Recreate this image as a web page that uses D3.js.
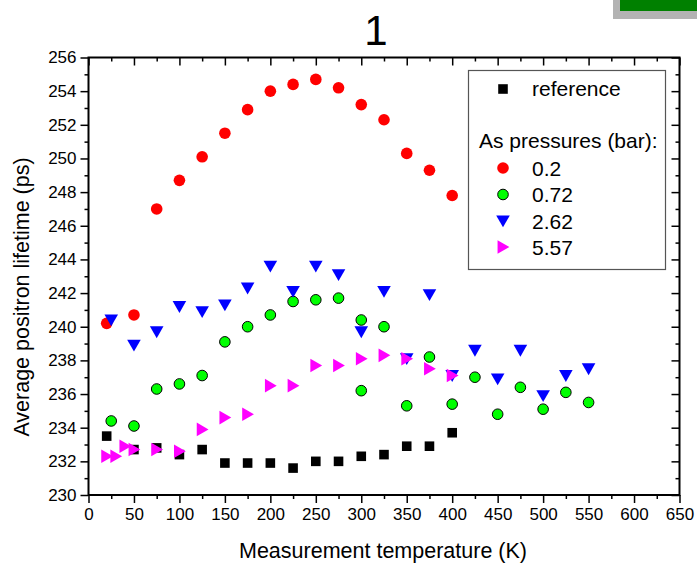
<!DOCTYPE html>
<html>
<head>
<meta charset="utf-8">
<script src="https://cdn.jsdelivr.net/npm/d3@7"></script>
<style>
  body { margin: 0; background: #fff; }
  svg { display: block; font-family: "Liberation Sans", Arial, sans-serif; }
</style>
</head>
<body>
<svg id="chart" width="697" height="564"></svg>
<script>
// reference samples
const refT = [20, 50, 75, 100, 125, 150, 175, 200, 225, 250, 275, 300, 325, 350, 375, 400]
const refV = [233.5, 232.7, 232.8, 232.4, 232.7, 231.9, 231.9, 231.9, 231.6, 232.0, 232.0, 232.3, 232.4, 232.9, 232.9, 233.7]

// 0.2 bar
const p02T = [20, 50, 75, 100, 125, 150, 175, 200, 225, 250, 275, 300, 325, 350, 375, 400]
const p02V = [240.2, 240.7, 247.0, 248.7, 250.1, 251.5, 252.9, 254.0, 254.4, 254.7, 254.2, 253.2, 252.3, 250.3, 249.3, 247.8]

// 0.72 bar
const p072T = [25, 50, 75, 100, 125, 150, 175, 200, 225, 250, 275, 300, 300, 325, 350, 375, 400, 425, 450, 475, 500, 525, 550]
const p072V = [234.4, 234.1, 236.3, 236.6, 237.1, 239.1, 240.0, 240.7, 241.5, 241.6, 241.7, 240.4, 236.2, 240.0, 235.3, 238.2, 235.4, 237.0, 234.8, 236.4, 235.1, 236.1, 235.5]

// 2.62 bar
const p262T = [25, 50, 75, 100, 125, 150, 175, 200, 225, 250, 275, 300, 325, 350, 375, 400, 425, 450, 475, 500, 525, 550]
const p262V = [240.4, 238.9, 239.7, 241.2, 240.9, 241.3, 242.3, 243.6, 242.1, 243.6, 243.1, 239.7, 242.1, 238.1, 241.9, 237.1, 238.6, 236.9, 238.6, 235.9, 237.1, 237.5]

// 5.57 bar
const p557T = [20, 30, 40, 50, 75, 100, 125, 150, 175, 200, 225, 250, 275, 300, 325, 350, 375, 400]
const p557V = [232.3, 232.3, 232.9, 232.7, 232.7, 232.6, 233.9, 234.6, 234.8, 236.5, 236.5, 237.7, 237.7, 238.1, 238.3, 238.1, 237.5, 237.1]

const xTicks = d3.range(0, 651, 50)
const yTicks = d3.range(230, 257, 2)
const legendLabels = ["0.2", "0.72", "2.62", "5.57"]

const svg = d3.select("#chart")
const margin = {top: 57.5, right: 17.5, bottom: 69, left: 88.5}
const width = 697 - margin.left - margin.right
const height = 564 - margin.top - margin.bottom

const x = d3.scaleLinear().domain([0, 650]).range([0, width])
const y = d3.scaleLinear().domain([230, 256]).range([height, 0])

// green box in the corner
svg.append("rect").attr("x", 613).attr("y", -2).attr("width", 90).attr("height", 21).attr("fill", "#b3b3b3")
svg.append("rect").attr("x", 620).attr("y", -2).attr("width", 80).attr("height", 13).attr("fill", "#008000")

// title
svg.append("text")
  .attr("x", 376).attr("y", 45)
  .attr("text-anchor", "middle")
  .attr("font-size", 42)
  .attr("font-family", "Arial, 'Liberation Sans', sans-serif")
  .text("1")

const g = svg.append("g").attr("transform", `translate(${margin.left},${margin.top})`)

const minorX = d3.range(25, 650, 50)
const minorY = d3.range(231, 256, 2)

function styleAxis(sel) {
  sel.select(".domain").remove()
  sel.selectAll(".tick line").attr("stroke", "#000").attr("stroke-width", 1.5)
}

// bottom
g.append("g").attr("transform", `translate(0,${height})`)
  .call(d3.axisBottom(x).tickValues(xTicks).tickSize(8).tickPadding(5))
  .call(styleAxis)
  .selectAll("text").attr("font-size", 17).attr("fill", "#000")
g.append("g").attr("transform", `translate(0,${height})`)
  .call(d3.axisBottom(x).tickValues(minorX).tickSize(4).tickFormat(""))
  .call(styleAxis)
// top
g.append("g")
  .call(d3.axisTop(x).tickValues(xTicks).tickSize(-8).tickFormat(""))
  .call(styleAxis)
g.append("g")
  .call(d3.axisTop(x).tickValues(minorX).tickSize(-4).tickFormat(""))
  .call(styleAxis)
// left
g.append("g")
  .call(d3.axisLeft(y).tickValues(yTicks).tickSize(8).tickPadding(4))
  .call(styleAxis)
  .selectAll("text").attr("font-size", 17).attr("fill", "#000")
g.append("g")
  .call(d3.axisLeft(y).tickValues(minorY).tickSize(4).tickFormat(""))
  .call(styleAxis)
// right
g.append("g").attr("transform", `translate(${width},0)`)
  .call(d3.axisRight(y).tickValues(yTicks).tickSize(-8).tickFormat(""))
  .call(styleAxis)
g.append("g").attr("transform", `translate(${width},0)`)
  .call(d3.axisRight(y).tickValues(minorY).tickSize(-4).tickFormat(""))
  .call(styleAxis)

// frame
g.append("rect")
  .attr("width", width).attr("height", height)
  .attr("fill", "none").attr("stroke", "#000").attr("stroke-width", 2)

// axis titles
svg.append("text")
  .attr("x", 383).attr("y", 558)
  .attr("text-anchor", "middle")
  .attr("font-size", 21.5)
  .text("Measurement temperature (K)")

svg.append("text")
  .attr("transform", "translate(29,297) rotate(-90)")
  .attr("text-anchor", "middle")
  .attr("font-size", 21.5)
  .text("Average positron lifetime (ps)")

// marker shapes
const sq = d3.symbol().type(d3.symbolSquare).size(92)
const tri = d3.symbol().type(d3.symbolTriangle).size(80)

function pts(T, V) { return T.map((t, i) => ({t: t, v: V[i]})) }

function squares(sel, data) {
  sel.selectAll(null).data(data).enter().append("path")
    .attr("d", sq)
    .attr("transform", d => `translate(${x(d.t)},${y(d.v)})`)
    .attr("fill", "#000")
}
function circles(sel, data, fill, stroke) {
  sel.selectAll(null).data(data).enter().append("circle")
    .attr("cx", d => x(d.t)).attr("cy", d => y(d.v))
    .attr("r", stroke ? 5.3 : 5.8)
    .attr("fill", fill)
    .attr("stroke", stroke || "none")
    .attr("stroke-width", 1)
}
// rot: 180 -> pointing down, 90 -> pointing right
function triangles(sel, data, fill, rot) {
  sel.selectAll(null).data(data).enter().append("path")
    .attr("d", tri)
    .attr("transform", d => `translate(${x(d.t)},${y(d.v)}) rotate(${rot}) translate(0,1.5)`)
    .attr("fill", fill)
}

const marks = g.append("g")
squares(marks, pts(refT, refV))
circles(marks, pts(p02T, p02V), "#ff0000")
circles(marks, pts(p072T, p072V), "#00ff00", "#000")
triangles(marks, pts(p262T, p262V), "#0000ff", 180)
triangles(marks, pts(p557T, p557V), "#ff00ff", 90)

// legend
const lg = svg.append("g")
lg.append("rect")
  .attr("x", 468.5).attr("y", 70.5).attr("width", 197).attr("height", 199)
  .attr("fill", "#fff").attr("stroke", "#555").attr("stroke-width", 1.2)

const mx = 503, tx = 532
lg.append("path").attr("d", sq).attr("transform", `translate(${mx},89)`).attr("fill", "#000")
lg.append("text").attr("x", tx).attr("y", 96).attr("font-size", 21).text("reference")
lg.append("text").attr("x", 479).attr("y", 148).attr("font-size", 21).text("As pressures (bar):")

const rows = [168, 194.5, 221, 247]
lg.append("circle").attr("cx", mx).attr("cy", rows[0]).attr("r", 5.8).attr("fill", "#ff0000")
lg.append("circle").attr("cx", mx).attr("cy", rows[1]).attr("r", 5.3).attr("fill", "#00ff00").attr("stroke", "#000")
lg.append("path").attr("d", tri).attr("transform", `translate(${mx},${rows[2]}) rotate(180) translate(0,1.5)`).attr("fill", "#0000ff")
lg.append("path").attr("d", tri).attr("transform", `translate(${mx},${rows[3]}) rotate(90) translate(0,1.5)`).attr("fill", "#ff00ff")

lg.selectAll(null).data(legendLabels).enter().append("text")
  .attr("x", tx).attr("y", (d, i) => rows[i] + 7.5)
  .attr("font-size", 21)
  .text(d => d)
</script>
</body>
</html>
